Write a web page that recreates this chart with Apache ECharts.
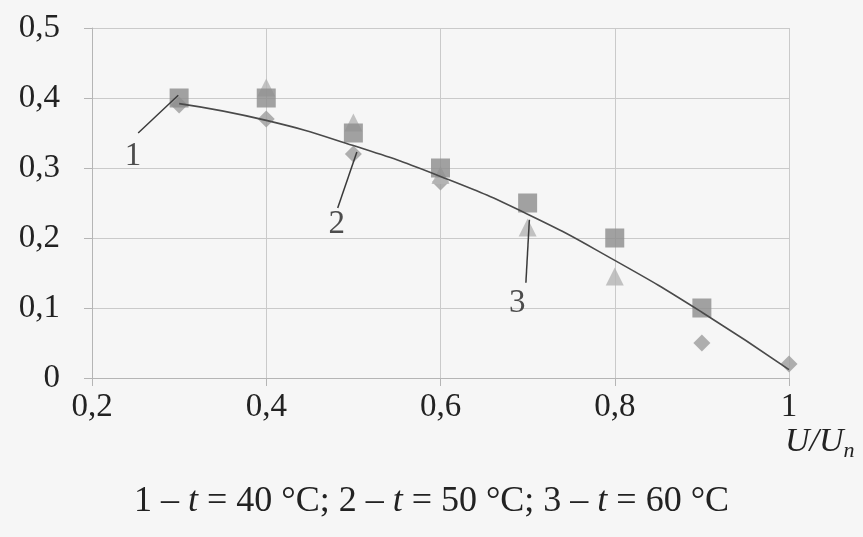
<!DOCTYPE html>
<html>
<head>
<meta charset="utf-8">
<script src="https://cdn.jsdelivr.net/npm/echarts@6/dist/echarts.min.js"></script>
<style>html,body{margin:0;padding:0;background:#f6f6f6;}#c{width:863px;height:537px;}</style>
</head>
<body>
<div id="c"></div>
<script>
// Series 1: t = 40 °C (diamonds)
const x40 = [0.3, 0.4, 0.5, 0.6, 0.9, 1.0];
const y40 = [0.39, 0.37, 0.32, 0.28, 0.05, 0.02];
// Series 2: t = 50 °C (squares)
const x50 = [0.3, 0.4, 0.5, 0.6, 0.7, 0.8, 0.9];
const y50 = [0.40, 0.40, 0.35, 0.30, 0.25, 0.20, 0.10];
// Series 3: t = 60 °C (triangles)
const x60 = [0.4, 0.5, 0.6, 0.7, 0.8];
const y60 = [0.415, 0.365, 0.29, 0.215, 0.145];
// Trend curve
const xFit = [0.3, 0.4, 0.5, 0.6, 0.7, 0.8, 0.9, 1.0];
const yFit = [0.392, 0.368, 0.332, 0.288, 0.234, 0.168, 0.094, 0.012];
// Annotations: label text, label position, leader line start and end
const annText = ['1', '2', '3'];
const annLabelX = [0.247, 0.481, 0.688];
const annLabelY = [0.317, 0.219, 0.107];
const annFromX = [0.253, 0.482, 0.698];
const annFromY = [0.350, 0.243, 0.136];
const annToX = [0.299, 0.504, 0.702];
const annToY = [0.404, 0.323, 0.226];
// Axis ticks
const xTicks = [0.2, 0.4, 0.6, 0.8, 1.0];
const yTicks = [0, 0.1, 0.2, 0.3, 0.4, 0.5];
const caption = ['1 – ', 't', ' = 40 °C; 2 – ', 't', ' = 50 °C; 3 – ', 't', ' = 60 °C'];

const FONT = '"Liberation Serif", "Times New Roman", serif';
const FS = 33;
const zip = (a, b) => a.map((v, i) => [v, b[i]]);
const fmt = v => String(Math.round(v * 10) / 10).replace('.', ',');

const chart = echarts.init(document.getElementById('c'), null, {renderer: 'canvas'});
chart.setOption({
  backgroundColor: '#f6f6f6',
  animation: false,
  title: {
    text: caption.map((s, i) => (i % 2 === 1 ? '{it|' + s + '}' : '{n|' + s + '}')).join(''),
    left: 'center', top: 479,
    textStyle: {
      fontWeight: 'normal',
      rich: {
        n: {fontFamily: FONT, fontSize: 36, fontWeight: 'normal', color: '#222'},
        it: {fontFamily: FONT, fontSize: 36, fontWeight: 'normal', fontStyle: 'italic', color: '#222'}
      }
    }
  },
  grid: {left: 92, right: 74, top: 28, bottom: 159},
  xAxis: {
    type: 'value', min: xTicks[0], max: xTicks[xTicks.length - 1], interval: 0.2,
    name: '{i|U/U}{s|n}',
    nameLocation: 'end', nameGap: -4,
    nameTextStyle: {
      align: 'left', verticalAlign: 'top', padding: [44, 0, 0, 0],
      rich: {
        i: {fontFamily: FONT, fontSize: 34, fontStyle: 'italic', color: '#222'},
        s: {fontFamily: FONT, fontSize: 22, fontStyle: 'italic', color: '#222', padding: [18, 0, 0, 0]}
      }
    },
    axisLine: {show: true, lineStyle: {color: '#b5b5b5', width: 1}},
    axisTick: {show: true, length: 8, lineStyle: {color: '#b5b5b5'}},
    splitLine: {show: true, lineStyle: {color: '#cacaca', width: 1}},
    axisLabel: {margin: 13, fontFamily: FONT, fontSize: FS, color: '#222', formatter: fmt}
  },
  yAxis: {
    type: 'value', min: yTicks[0], max: yTicks[yTicks.length - 1], interval: 0.1,
    axisLine: {show: true, lineStyle: {color: '#b5b5b5', width: 1}},
    axisTick: {show: true, length: 8, lineStyle: {color: '#b5b5b5'}},
    splitLine: {show: true, lineStyle: {color: '#cacaca', width: 1}},
    axisLabel: {margin: 32, fontFamily: FONT, fontSize: FS, color: '#222', formatter: fmt}
  },
  series: [
    {
      name: 'fit', type: 'line', data: zip(xFit, yFit), smooth: true, showSymbol: false,
      lineStyle: {color: '#4a4a4a', width: 1.6}, z: 3,
      markLine: {
        silent: true, symbol: ['none', 'none'],
        lineStyle: {color: '#3a3a3a', width: 1.5, type: 'solid'},
        label: {show: false},
        data: annText.map((t, i) => [
          {coord: [annFromX[i], annFromY[i]]},
          {coord: [annToX[i], annToY[i]]}
        ])
      }
    },
    {
      name: '40', type: 'scatter', data: zip(x40, y40), symbol: 'diamond', symbolSize: 17,
      itemStyle: {color: '#9c9c9c'}, z: 2
    },
    {
      name: '60', type: 'scatter', data: zip(x60, y60), symbol: 'triangle', symbolSize: 18,
      itemStyle: {color: '#b4b4b4'}, z: 2
    },
    {
      name: '50', type: 'scatter', data: zip(x50, y50), symbol: 'rect', symbolSize: 19,
      itemStyle: {color: '#8c8c8c'}, z: 2
    },
    {
      name: 'labels', type: 'scatter', data: zip(annLabelX, annLabelY), symbolSize: 0, z: 4,
      label: {
        show: true, position: 'inside',
        formatter: p => annText[p.dataIndex],
        fontFamily: FONT, fontSize: FS, color: '#222'
      }
    }
  ]
});
</script>
</body>
</html>
